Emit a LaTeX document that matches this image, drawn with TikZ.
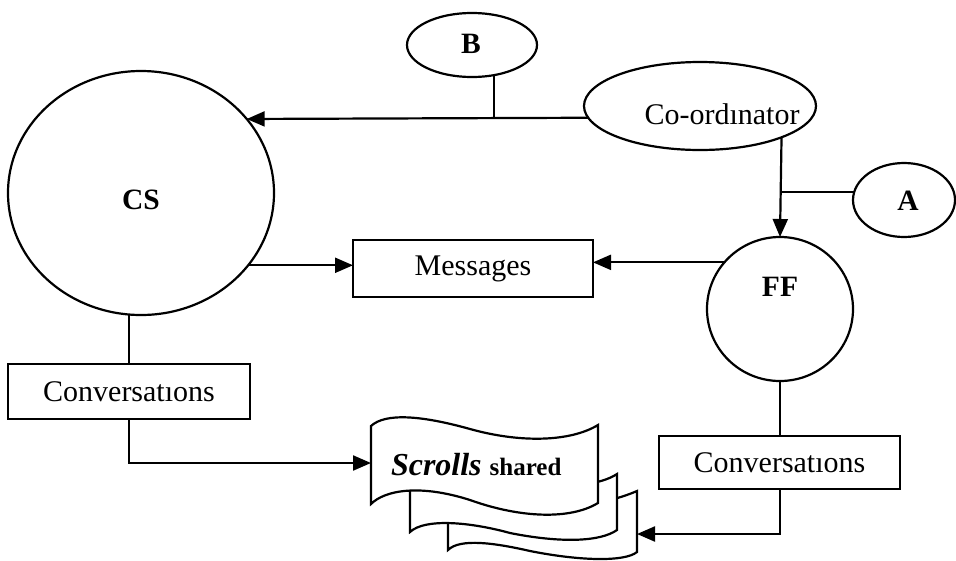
\documentclass[tikz,border=0pt]{standalone}
\usepackage{fontspec}
\setmainfont{Liberation Serif}
\usetikzlibrary{arrows.meta,shapes.geometric}
\begin{document}
\begin{tikzpicture}[x=1pt,y=-1pt,
  every node/.style={inner sep=0pt, outer sep=0pt},
  line/.style={line width=2.2pt, line join=miter},
  arr/.style={line, -{Triangle[length=18pt,width=15pt]}},
  oval/.style={ellipse, draw, line width=2.2pt, fill=white},
  box/.style={rectangle, draw, line width=2.2pt, fill=white},
  lbl/.style={font=\fontsize{30}{34}\selectfont},
  blbl/.style={font=\fontsize{29.5}{34}\selectfont\bfseries},
  sheet/.style={draw, line width=2.2pt, fill=white, line join=miter}]
\useasboundingbox (0,0) rectangle (956,560);

% ---- processes and roles ----
\node[oval, minimum width=266pt, minimum height=244pt] (CS) at (141,193) {};
\node[blbl] (CSlbl) at (141,200) {CS};
\node[oval, minimum width=146pt, minimum height=144pt] (FF) at (780,309) {};
\node[blbl] (FFlbl) at (780,287) {FF};
\node[oval, minimum width=232pt, minimum height=88pt] (coord) at (700,106) {};
\node[lbl] (coordlbl) at (722,114) {Co-ordınator};
\node[oval, minimum width=130pt, minimum height=64pt] (B) at (472,45) {};
\node[blbl] (Blbl) at (471,44) {B};
\node[oval, minimum width=102pt, minimum height=74pt] (A) at (904,200) {};
\node[blbl] (Albl) at (908,201) {A};

% ---- stores ----
\node[box, lbl, minimum width=240pt, minimum height=57pt] (msg) at (473,268.5) {Messages};
\node[box, lbl, minimum width=242pt, minimum height=55pt] (conv1) at (129,391.5) {Conversatıons};
\node[box, lbl, minimum width=241pt, minimum height=53pt] (conv2) at (779.5,462.5) {Conversatıons};

% ---- stack of shared scrolls (back to front) ----
\draw[sheet] (448,505) .. controls (500,495) and (570,510) .. (610,500)
  .. controls (622,497) and (630,494) .. (637,491) -- (637,552)
  .. controls (625,562) and (580,561) .. (530,551)
  .. controls (495,543) and (460,538) .. (448,550) -- cycle;
\draw[sheet] (410,470) .. controls (450,460) and (500,470) .. (540,480)
  .. controls (570,488) and (600,485) .. (617,474) -- (617,530)
  .. controls (600,542) and (560,543) .. (510,533)
  .. controls (470,522) and (425,518) .. (410,532) -- cycle;
\draw[sheet] (371,426) .. controls (385,413) and (420,415) .. (470,429)
  .. controls (520,443) and (570,442) .. (598,425) -- (598,503)
  .. controls (570,520) and (520,518) .. (470,500)
  .. controls (420,484) and (385,490) .. (371,504) -- cycle;
\node[anchor=base west] (scrolltxt) at (391,475)
  {\fontsize{32}{36}\selectfont\bfseries\itshape Scrolls\/ \fontsize{25}{30}\selectfont\upshape shared};
\coordinate (s1in) at (371,463);
\coordinate (s3in) at (637,534);

% ---- connectors ----
\draw[arr] (coord.186.1) -- (CS.35.5);
\draw[line] (B.-54) -- (B.-54 |- CS.35.5);
\draw[arr] (coord.-21.7) -- (FF.north);
\draw[line] (A.171) -- (A.171 -| FF.north);
\draw[arr] (CS.-34) -- (CS.-34 -| msg.west);
\draw[arr] (FF.140.7) -- (FF.140.7 -| msg.east);
\draw[line] (conv1.north |- CS.south) -- (conv1.north);
\draw[arr] (conv1.south) |- (s1in);
\draw[line] (FF.south) -- (FF.south |- conv2.north);
\draw[arr] (conv2.south -| FF.south) |- (s3in);
\end{tikzpicture}
\end{document}
